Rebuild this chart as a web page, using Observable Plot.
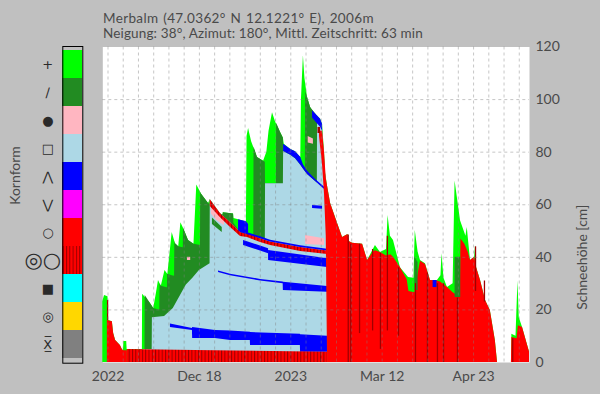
<!DOCTYPE html>
<html><head><meta charset="utf-8">
<script src="https://cdn.jsdelivr.net/npm/d3@7"></script>
<script src="https://cdn.jsdelivr.net/npm/@observablehq/plot@0.6"></script>
<style>
html,body{margin:0;padding:0;background:#c0c0c0;}
#wrap{position:relative;width:600px;height:394px;background:#c0c0c0;font-family:Lato,sans-serif;overflow:hidden}
.title{position:absolute;left:103px;font-size:13.5px;line-height:14px;color:#4a4a4a;white-space:nowrap}
#main,#legend{position:absolute;left:0;top:0}
</style></head><body>
<div id="wrap"><div id="main"></div><div id="legend"></div>
<div class="title" style="top:10.5px;letter-spacing:0.35px;word-spacing:1px">Merbalm (47.0362° N 12.1221° E), 2006m</div>
<div class="title" style="top:25.5px;letter-spacing:0.15px">Neigung: 38°, Azimut: 180°, Mittl. Zeitschritt: 63 min</div></div>
<script>
// ---- legend data ----
const grainNames = ["PP","DF","RG","FC","DH","SH","MF","MFcr","IF","PPgp","FCxr"];
const grainColors = ["#00ff00","#228b22","#ffb6c1","#add8e6","#0000ff","#ff00ff","#ff0000","url(#stripesL)","#00ffff","#ffd700","#808080"];
const grainSymbols = ["+","∕","●","□","⋀","⋁","○","◎○","■","◎","X̲̅"];

// ---- axis ----
const tickDays = [0, 42, 84, 126, 168];
const tickLabels = ["2022", "Dec 18", "2023", "Mar 12", "Apr 23"];
const heightTicks = [0, 20, 40, 60, 80, 100, 120];

// ---- series: [day since 2022-11-06, cm] or [day, bottom cm, top cm] ----
const snowHeight = [[-2.4,23.0],[-1.6,25.5],[0.0,25.0],[0.3,16.0],[2.0,15.5],[2.6,11.0],[3.5,8.4],[5.7,6.5],[6.5,5.0],[7.1,4.5],[7.3,8.0],[8.6,8.0],[8.8,4.9],[15.8,4.9],[15.9,26.0],[19.5,22.4],[21.0,20.5],[22.3,26.5],[23.2,31.2],[24.5,29.0],[26.2,35.0],[27.5,33.5],[29.5,49.4],[31.0,45.2],[32.5,44.0],[33.5,53.2],[35.0,50.5],[37.0,46.4],[39.5,45.0],[40.8,67.5],[43.0,64.0],[46.2,60.5],[47.0,61.9],[51.7,56.6],[52.8,56.0],[53.0,57.0],[57.7,56.5],[57.9,54.8],[60.0,54.3],[63.6,53.5],[63.9,86.0],[64.6,89.0],[66.0,84.0],[68.7,78.0],[71.5,76.5],[73.0,80.0],[74.0,88.0],[75.6,95.0],[77.0,91.5],[79.3,87.5],[80.6,85.3],[81.0,83.0],[84.0,81.0],[86.2,80.2],[88.6,78.0],[88.9,100.0],[89.8,116.7],[90.5,108.0],[91.7,100.8],[93.1,97.0],[94.0,95.8],[95.4,94.5],[97.7,92.5],[98.6,90.5],[99.5,80.0],[100.0,72.0],[100.9,67.0],[102.3,60.5],[105.5,52.9],[107.8,47.5],[110.3,48.7],[110.8,46.0],[112.4,45.4],[117.0,45.0],[119.3,38.8],[122.9,44.5],[125.2,41.8],[128.0,43.0],[128.7,55.9],[129.8,48.0],[131.2,46.4],[134.4,36.0],[138.1,32.3],[140.6,32.0],[141.2,50.2],[142.5,42.0],[143.6,38.8],[145.9,37.6],[148.2,31.2],[151.4,31.2],[153.0,33.0],[153.5,41.4],[154.4,32.0],[156.0,28.5],[158.6,30.0],[159.5,69.0],[161.0,60.0],[162.0,53.9],[164.5,48.0],[165.1,51.3],[166.6,38.8],[168.5,40.0],[168.9,44.5],[169.4,36.0],[171.2,31.2],[173.5,23.6],[175.7,19.8],[178.0,8.4],[179.0,0.0],[185.4,0.0],[185.6,10.7],[187.5,10.0],[188.4,31.0],[189.0,17.0],[190.5,13.3],[193.0,6.0],[193.7,4.0]];

const darkGreenTop = [[15.8,4.9],[17.0,4.9],[17.1,25.5],[19.5,22.4],[21.0,20.5],[22.3,20.3],[23.8,20.0],[23.9,30.0],[24.5,29.0],[26.2,28.6],[27.3,28.4],[27.4,33.6],[29.5,33.0],[30.6,32.8],[30.7,46.0],[31.0,45.2],[32.5,44.0],[33.5,43.8],[34.6,43.6],[34.7,51.0],[35.0,50.5],[37.0,46.4],[39.5,45.0],[40.8,44.8],[42.5,44.5],[42.6,64.8],[43.0,64.0],[46.2,60.5],[46.9,60.0],[47.0,61.9],[51.7,56.6],[52.9,56.0],[53.0,57.0],[57.7,56.5],[57.8,53.0],[60.9,49.4],[67.0,48.5],[67.1,82.0],[68.7,78.0],[71.5,76.5],[72.3,76.2],[72.4,68.0],[77.4,68.0],[77.5,91.0],[79.3,87.5],[80.6,85.3],[80.7,80.3],[84.0,78.8],[86.2,77.5],[88.6,75.0],[90.7,72.8],[90.8,103.0],[91.7,100.8],[93.1,97.0],[95.4,94.5],[96.2,93.5],[96.3,92.0],[97.7,90.0],[98.6,88.5],[100.9,60.0]];

const lightBlueTop = [[15.8,4.9],[20.3,4.9],[20.4,17.0],[26.0,17.5],[30.0,20.5],[33.0,25.0],[36.0,29.5],[39.0,32.0],[42.0,35.0],[46.9,37.6],[47.0,61.9],[51.7,56.6],[56.3,53.2],[60.9,49.4],[64.1,49.0],[70.1,47.1],[72.3,46.6],[72.4,68.0],[80.6,68.0],[80.7,80.3],[84.0,78.8],[86.2,77.5],[88.6,75.0],[89.8,73.6],[91.7,71.5],[95.4,68.8],[96.2,68.3],[96.3,92.0],[97.7,90.0],[98.6,88.5],[100.9,60.0]];

const pinkA = [[47.5,56.5,59.3],[50.0,54.0,57.0],[53.5,52.0,54.5]];
const pinkB = [[90.8,44.9,48.3],[99.5,44.5,47.1]];
const pinkC = [[36.5,38.8,40.0],[38.0,38.8,40.0]];
const pinkD = [[92.0,83.5,86.0],[94.4,83.0,85.0]];
const darkGreenStrip = [[48.0,52.5,55.0],[52.5,49.4,51.3]];

const blueLow = [[28.7,13.3,14.6],[38.8,12.2,12.9],[38.9,9.1,13.3],[49.4,9.1,12.2],[56.3,8.4,12.0],[65.4,8.4,11.5],[65.5,6.5,11.4],[88.4,6.5,10.7],[88.5,3.9,10.6],[100.9,3.9,10.0]];
const blueMid = [[50.8,34.2,34.8],[56.3,33.0,33.6],[70.1,31.0,31.6],[80.5,30.0,30.6],[80.6,27.4,30.5],[100.9,26.7,28.9]];
const blueA = [[62.3,44.5,46.4],[73.8,41.4,43.3]];
const blueB = [[73.8,38.8,42.6],[100.9,36.1,39.5]];
const blueSurface = [[80.7,80.3,83.0],[84.0,78.8,81.0],[86.2,77.5,80.2],[88.6,75.0,78.0],[89.8,73.6,75.2],[91.7,71.5,72.7],[95.4,68.8,69.6],[98.6,66.5,67.3],[100.0,65.5,66.3]];
const blueThin = [[94.0,58.6,59.7],[98.6,58.3,59.4]];
const blueTop = [[94.0,93.0,95.8],[95.4,91.6,94.5],[97.7,89.5,92.5],[98.6,88.0,90.5]];
const bluePatch = [[60.0,49.6,54.3],[63.6,49.3,53.5],[64.6,49.0,52.5]];
const blueCrustLine = [[60.9,49.4,50.2],[70.1,47.1,47.8],[74.7,45.8,46.5],[88.5,43.7,44.4],[100.9,42.4,43.1]];
const blueMelt = [[149.4,28.5,31.2],[151.2,28.5,31.2]];

const crust = [[47.0,59.3,61.9],[51.7,55.1,56.6],[56.3,51.3,53.2],[60.9,47.9,49.4],[64.1,47.5,49.0],[70.1,45.6,47.1],[74.7,44.5,45.8],[88.5,42.2,43.7],[100.9,41.1,42.4]];
const baseCrust = [[8.9,0,4.9],[40.0,0,4.6],[100.9,0,3.9]];
const earlyRed = [[-0.3,0,16.0],[2.0,0,15.5],[2.6,0,11.0],[3.5,0,8.4],[5.7,0,6.5],[6.5,0,5.0],[7.1,0,4.5],[8.9,0,4.5]];
const redTransition = [[97.2,86.0,88.0],[98.6,75.0,88.0],[99.5,64.0,80.0],[100.3,48.0,70.0],[100.9,0,67.0]];
const meltTop = [[100.9,67.0],[102.3,60.5],[105.5,52.9],[107.8,47.5],[110.3,48.7],[110.8,46.0],[112.4,45.4],[117.0,45.0],[119.3,38.8],[122.0,42.0],[122.9,42.5],[125.2,41.8],[128.0,40.5],[130.0,41.0],[131.2,40.0],[134.4,36.0],[137.5,31.5],[138.3,27.0],[141.0,26.5],[142.6,34.0],[143.6,38.5],[145.9,37.3],[148.2,31.2],[151.4,31.0],[153.0,30.5],[156.0,28.5],[158.6,26.5],[161.9,24.7],[162.2,47.0],[164.0,45.0],[165.5,42.0],[166.6,38.8],[168.5,40.0],[169.4,36.0],[171.2,31.2],[173.5,23.6],[175.7,19.8],[178.0,8.4],[179.0,0.0],[185.4,0.0],[185.6,9.5],[188.0,9.0],[188.6,14.0],[190.5,13.3],[193.0,6.0],[193.7,4.0]];
const meltDarkGreenA = [[141.0,27.4,40.0],[142.5,27.4,38.0]];
const meltDarkGreenB = [[159.5,24.7,40.0],[162.1,24.7,40.0]];
const darkRedCrust = [[96.5,87.1,89.4],[97.7,87.1,89.4]];
const darkRedStreaks = [[-0.2,16.0,23.6],[110.4,0,48.5],[111.6,0,45.0],[115.6,11.0,45.0],[121.6,12.0,43.0],[125.2,5.0,41.5],[128.4,12.0,48.0],[133.5,10.0,36.0],[141.3,0,30.0],[146.8,0,34.0],[151.4,0,30.0],[154.2,0,30.0],[160.6,0,24.5],[168.9,27.0,44.0],[173.0,23.0,31.0],[186.0,0,9.0]];

// ---- helpers ----
const t0 = Date.UTC(2022, 10, 6);
const day = d => new Date(t0 + d * 864e5);
const X = r => day(r[0]);
const band = (data, fill) => Plot.areaY(data, {x: X, y1: r => r[1], y2: r => r[2], fill});
const fromZero = (data, fill) => Plot.areaY(data, {x: X, y1: () => 0, y2: r => r[1], fill});
const labelOf = new Map(tickDays.map((d, i) => [+day(d), tickLabels[i]]));
const weekly = d3.utcSunday.range(day(-3), day(194));

const C = {PP:"#00ff00", DF:"#228b22", RG:"#ffb6c1", FC:"#add8e6", DH:"#0000ff", MF:"#ff0000", dark:"#a00000"};

const mainPlot = Plot.plot({
  width: 600, height: 394,
  marginLeft: 102.3, marginRight: 71, marginTop: 46.5, marginBottom: 32,
  style: {background: "transparent", fontFamily: "Lato, sans-serif", fontSize: "14px", color: "#4a4a4a", overflow: "visible"},
  x: {type: "utc", domain: [day(-2.39), day(193.7)]},
  y: {domain: [0, 120]},
  marks: [
    Plot.frame({fill: "white"}),
    fromZero(snowHeight, C.PP),
    fromZero(darkGreenTop, C.DF),
    fromZero(lightBlueTop, C.FC),
    band(darkGreenStrip, C.DF),
    band(pinkA, C.RG), band(pinkB, C.RG), band(pinkC, C.RG), band(pinkD, C.RG),
    ...[blueLow, blueMid, blueA, blueB, blueSurface, blueThin, blueTop, bluePatch].map(b => band(b, C.DH)),
    band(crust, "url(#stripes)"),
    band(blueCrustLine, C.DH),
    band(baseCrust, "url(#stripes)"),
    band(earlyRed, C.MF),
    band(redTransition, C.MF),
    fromZero(meltTop, C.MF),
    band(meltDarkGreenA, C.DF), band(meltDarkGreenB, C.DF),
    band(blueMelt, C.DH),
    band(darkRedCrust, C.dark),
    Plot.ruleX(darkRedStreaks, {x: X, y1: r => r[1], y2: r => r[2], stroke: C.dark, strokeWidth: 1.3}),
    Plot.gridX(weekly, {stroke: "#808080", strokeOpacity: 0.45, strokeDasharray: "3,3"}),
    Plot.gridY([20, 40, 60, 80, 100], {stroke: "#808080", strokeOpacity: 0.45, strokeDasharray: "3,3"}),
    Plot.axisX(tickDays.map(day), {tickSize: 0, tickPadding: 9, tickFormat: d => labelOf.get(+d), label: null, fontSize: 14}),
    Plot.axisY(heightTicks, {anchor: "right", tickSize: 0, tickPadding: 6, label: null, fontSize: 14}),
    Plot.text(["Schneehöhe [cm]"], {frameAnchor: "right", dx: 53, rotate: -90, fontSize: 14, fill: "#4a4a4a"})
  ]
});

function addStripes(svg, id) {
  const pat = d3.select(svg).insert("defs", ":first-child").append("pattern")
    .attr("id", id).attr("patternUnits", "userSpaceOnUse").attr("width", 3.3).attr("height", 10);
  pat.append("rect").attr("width", 3.3).attr("height", 10).attr("fill", "#ff0000");
  pat.append("rect").attr("width", 1).attr("height", 10).attr("fill", "#990000");
}
addStripes(mainPlot, "stripes");
document.getElementById("main").appendChild(mainPlot);

const bigSymbol = "MFcr";
const legendPlot = Plot.plot({
  width: 100, height: 394,
  marginLeft: 62.3, marginRight: 17.7, marginTop: 46, marginBottom: 31.3,
  style: {background: "transparent", fontFamily: "Lato, sans-serif", overflow: "visible"},
  x: {type: "band", domain: [0], padding: 0, axis: null},
  y: {type: "band", domain: grainNames, padding: 0, axis: null},
  color: {type: "identity"},
  marks: [
    Plot.cell(grainNames, {x: () => 0, y: d => d, fill: (d, i) => grainColors[i]}),
    Plot.frame({stroke: "black"}),
    Plot.text(grainNames, {filter: d => d !== bigSymbol, y: d => d, frameAnchor: "left", textAnchor: "middle", dx: -15, text: d => grainSymbols[grainNames.indexOf(d)], fontSize: 13, fill: "#2a2a2a", fontFamily: "DejaVu Sans"}),
    Plot.text([bigSymbol], {y: d => d, frameAnchor: "left", textAnchor: "middle", dx: -20, text: d => grainSymbols[grainNames.indexOf(d)], fontSize: 21, fill: "#2a2a2a", fontFamily: "DejaVu Sans"}),
    Plot.text(["Kornform"], {frameAnchor: "left", dx: -47, rotate: -90, fontSize: 14, fill: "#4a4a4a"})
  ]
});
addStripes(legendPlot, "stripesL");
document.getElementById("legend").appendChild(legendPlot);
</script>
</body></html>
